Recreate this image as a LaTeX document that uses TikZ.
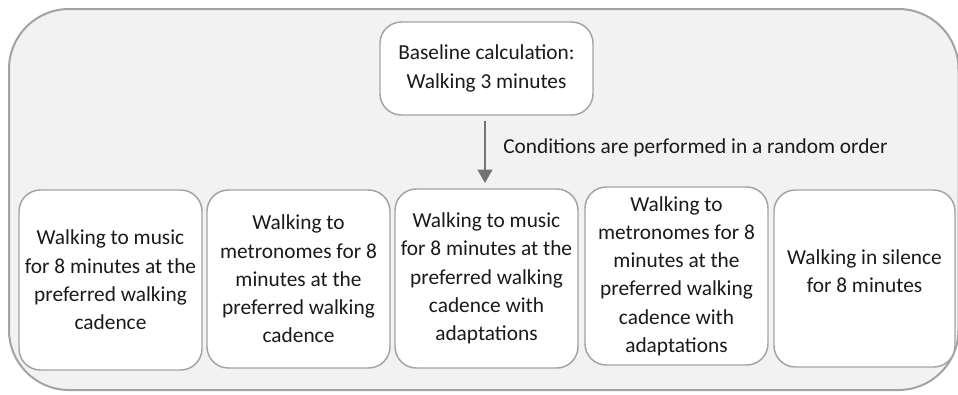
\documentclass[tikz,border=0pt]{standalone}
\usepackage{fontspec}
\setmainfont{Carlito}
\usetikzlibrary{arrows.meta}
\definecolor{outerfill}{HTML}{F2F2F2}
\definecolor{edgegray}{HTML}{A3A3A3}
\definecolor{arrowgray}{HTML}{737373}
\definecolor{txt}{HTML}{1A1A1A}
\tikzset{
  outerbox/.style={draw=edgegray, fill=outerfill, line width=1.5pt, rounded corners=45pt},
  condbox/.style={draw=edgegray, fill=white, line width=1.1pt, rounded corners=16pt,
    align=center, text=txt, inner sep=0pt, font=\fontsize{16pt}{21.2pt}\selectfont},
  flowarrow/.style={draw=arrowgray, line width=1.5pt, -{Triangle[width=11pt,length=10pt]}},
  note/.style={text=txt, font=\fontsize{16pt}{21.2pt}\selectfont, anchor=west, inner sep=0pt}
}
\begin{document}
\begin{tikzpicture}[x=0.75pt,y=-0.75pt]
\useasboundingbox (0,0) rectangle (958,394);
\path[outerbox] (9,9) rectangle (958.5,390);
\node[condbox, minimum width=213*0.75pt, minimum height=93*0.75pt] (base) at (486.5,68.5) {Baseline calculation:\\ Walking 3 minutes};
\node[condbox, minimum width=183*0.75pt, minimum height=180*0.75pt] (c1) at (110.5,280) {Walking to music\\ for 8 minutes at the\\ preferred walking\\ cadence};
\node[condbox, minimum width=183*0.75pt, minimum height=178*0.75pt] (c2) at (298.5,279) {Walking to\\ metronomes for 8\\ minutes at the\\ preferred walking\\ cadence};
\node[condbox, minimum width=183*0.75pt, minimum height=179*0.75pt] (c3) at (486.5,278.5) {Walking to music\\ for 8 minutes at the\\ preferred walking\\ cadence with\\ adaptations};
\node[condbox, minimum width=183*0.75pt, minimum height=178*0.75pt] (c4) at (676.5,276) {Walking to\\ metronomes for 8\\ minutes at the\\ preferred walking\\ cadence with\\ adaptations};
\node[condbox, minimum width=181*0.75pt, minimum height=177*0.75pt] (c5) at (864.5,278.5) {Walking in silence\\ for 8 minutes\\[-10.5pt]};
\coordinate (atop) at (485,121);
\coordinate (abot) at (485,183);
\draw[flowarrow] (atop) -- (abot);
\node[note] (lbl) at (503,148) {Conditions are performed in a random order};
\end{tikzpicture}
\end{document}
